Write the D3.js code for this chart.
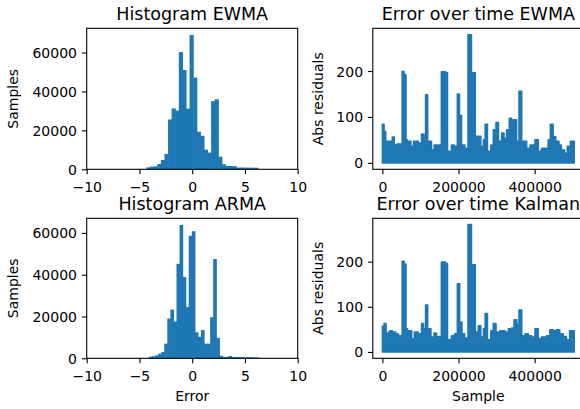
<!DOCTYPE html>
<html><head><meta charset="utf-8">
<script src="https://cdn.jsdelivr.net/npm/d3@7"></script>
<style>
body{margin:0;background:#fff;}
svg{display:block;font-family:"DejaVu Sans",sans-serif;}
</style>
</head><body>
<svg id="chart" width="580" height="409"></svg>
<script>
// ---------- data ----------
const ewmaEdges = [-4.33,-3.99,-3.65,-3.31,-2.97,-2.63,-2.29,-1.95,-1.61,-1.27,-0.93,-0.59,-0.25,0.09,0.43,0.77,1.11,1.45,1.79,2.13,2.47,2.81,3.15,3.49,3.83,4.17,4.51,4.85,5.19,5.53,5.87,6.21];
const ewmaCounts = [1000,1400,1500,2700,4800,7900,25600,31300,30200,60200,51000,31200,69000,47100,19300,17200,10100,8600,35000,36000,6500,2600,1700,1700,1600,900,900,850,850,800,800];
const armaEdges = [-4.10,-3.81,-3.52,-3.23,-2.94,-2.65,-2.36,-2.07,-1.78,-1.49,-1.20,-0.91,-0.62,-0.33,-0.04,0.25,0.54,0.83,1.12,1.41,1.70,1.99,2.28,2.57,2.86,3.15,3.44,3.73,4.02,4.31,4.60,4.89,5.18,5.47,5.76,6.05,6.34];
const armaCounts = [800,1000,1400,2200,3000,7000,19000,23300,17600,45200,63800,38900,24600,58600,60800,12500,10300,13500,7000,7000,19700,47500,9800,1200,700,700,1100,600,600,600,500,500,500,500,400,400];

const ewmaSample = [0,4400,8700,26000,31000,37500,52000,57000,62000,66000,75000,82000,94000,103000,109000,113500,119000,129000,136000,155000,166000,171000,181500,188500,197000,202500,208000,216500,225000,234000,244000,258500,265500,270000,276000,285000,291500,298500,305000,313500,319500,326500,333500,339500,344000,352500,359000,366000,379000,388000,401000,409500,418000,435500,441500,448500,455500,464000,470000,479000,486000,494000,504000];
const ewmaAbs = [84,68,47,56,39,41,199,192,50,47,36,47,43,63,57,148,47,28,39,198,196,25,39,36,150,103,39,32,279,196,58,36,50,84,25,39,72,88,47,65,54,72,97,90,94,47,156,47,32,39,50,25,32,50,84,57,47,39,28,21,36,47,47];

const kalmanSample = [0,4400,9600,15700,20000,26000,35000,42000,52000,57000,62000,66000,77000,84000,94000,103000,108000,113500,119000,127500,136000,142000,155000,166000,171000,181500,190000,197000,203000,209000,216000,225000,234000,244000,252000,258500,265500,270000,276000,285000,291500,298500,309000,322000,331000,339500,346000,353000,359000,366000,375000,383500,392000,401000,409500,418000,431000,440000,448500,457000,466000,475000,483500,492000,504000];
const kalmanAbs = [57,63,40,44,47,44,40,36,201,195,51,47,29,44,40,63,51,104,51,33,42,34,199,196,27,36,40,151,66,40,31,282,193,44,58,33,51,85,27,47,63,44,47,44,51,53,71,62,93,36,40,36,33,51,29,33,36,49,47,49,40,34,27,47,47];

const histXTicks = [-10,-5,0,5,10];
const histYTicks = [0,20000,40000,60000];
const timeXTicks = [0,200000,400000];
const resYTicks = [0,100,200];

const titles = ["Histogram EWMA","Error over time EWMA","Histogram ARMA","Error over time Kalman"];

// ---------- drawing ----------
const svg = d3.select("#chart");
const BLUE = "#1f77b4";
const FS = 14, TFS = 17.5;
const TICK = 4.86, PAD = 4.86;

function frame(p){
  svg.append("rect").attr("x",p.l).attr("y",p.t).attr("width",p.w).attr("height",p.h)
    .attr("fill","none").attr("stroke","#000").attr("stroke-width",1.1);
}
function axes(p, x, y, xticks, yticks, xfmt, yfmt){
  const gx = svg.append("g").attr("transform",`translate(0,${p.t+p.h})`)
    .call(d3.axisBottom(x).tickValues(xticks).tickFormat(xfmt).tickSize(TICK).tickPadding(PAD).tickSizeOuter(0));
  gx.select(".domain").remove();
  gx.selectAll("line").attr("stroke","#000").attr("stroke-width",1.1);
  gx.selectAll("text").attr("font-size",FS).attr("font-family","DejaVu Sans").attr("fill","#000").attr("dy","0.95em");
  const gy = svg.append("g").attr("transform",`translate(${p.l},0)`)
    .call(d3.axisLeft(y).tickValues(yticks).tickFormat(yfmt).tickSize(TICK).tickPadding(PAD).tickSizeOuter(0));
  gy.select(".domain").remove();
  gy.selectAll("line").attr("stroke","#000").attr("stroke-width",1.1);
  gy.selectAll("text").attr("font-size",FS).attr("font-family","DejaVu Sans").attr("fill","#000").attr("dy","0.36em");
}
function title(p, txt){
  svg.append("text").attr("x",p.l+p.w/2).attr("y",p.t-8.3).attr("text-anchor","middle")
    .attr("font-size",TFS).attr("fill","#000").text(txt);
}
function ylabel(p, txt, xpos){
  svg.append("text").attr("transform",`translate(${xpos},${p.t+p.h/2}) rotate(-90)`)
    .attr("text-anchor","middle").attr("font-size",FS).attr("fill","#000").text(txt);
}
function xlabel(p, txt){
  svg.append("text").attr("x",p.l+p.w/2).attr("y",p.t+p.h+43).attr("text-anchor","middle")
    .attr("font-size",FS).attr("fill","#000").text(txt);
}

function histPanel(p, edges, counts, ttl, showX){
  const x = d3.scaleLinear().domain([-10,10]).range([p.l,p.l+p.w]);
  const y = d3.scaleLinear().domain([0, d3.max(counts)*1.05]).range([p.t+p.h,p.t]);
  const bins = counts.map((c,i)=>({x0:edges[i],x1:edges[i+1],c}));
  svg.append("g").selectAll("rect").data(bins).join("rect")
    .attr("x",d=>x(d.x0)).attr("width",d=>x(d.x1)-x(d.x0)+0.6)
    .attr("y",d=>y(d.c)).attr("height",d=>y(0)-y(d.c))
    .attr("fill",BLUE);
  frame(p);
  axes(p,x,y,histXTicks,histYTicks,d3.format("d"),d3.format("d"));
  title(p,ttl);
  ylabel(p,"Samples",p.l-68.5);
  if(showX) xlabel(p,"Error");
}

let clipId = 0;
function timePanel(p, samples, vals, ttl, showX){
  const n = samples[samples.length-1];
  const x = d3.scaleLinear().domain([-0.05*n, 1.05*n]).range([p.l,p.l+p.w]);
  const vmax = d3.max(vals);
  const y = d3.scaleLinear().domain([-0.05*vmax, 1.05*vmax]).range([p.t+p.h,p.t]);
  const id = "clip"+(clipId++);
  svg.append("clipPath").attr("id",id).append("rect")
    .attr("x",p.l).attr("y",p.t).attr("width",p.w).attr("height",p.h);
  const pts = samples.map((s,i)=>({s,v:vals[i]}));
  const area = d3.area().x(d=>x(d.s)).y0(y(0)).y1(d=>y(d.v)).curve(d3.curveStepAfter);
  svg.append("path").datum(pts).attr("d",area).attr("clip-path",`url(#${id})`)
    .attr("fill",BLUE).attr("stroke",BLUE).attr("stroke-width",1.6).attr("stroke-linejoin","round");
  frame(p);
  axes(p,x,y,timeXTicks,resYTicks,d3.format("d"),d3.format("d"));
  title(p,ttl);
  ylabel(p,"Abs residuals",p.l-50);
  if(showX) xlabel(p,"Sample");
}

const P = [
  {l:86.7,t:28.3,w:211,h:141},
  {l:372.8,t:28.3,w:211,h:141},
  {l:86.7,t:218.3,w:211,h:140},
  {l:372.8,t:218.3,w:211,h:140}
];
histPanel(P[0], ewmaEdges, ewmaCounts, titles[0], false);
timePanel(P[1], ewmaSample, ewmaAbs, titles[1], false);
histPanel(P[2], armaEdges, armaCounts, titles[2], true);
timePanel(P[3], kalmanSample, kalmanAbs, titles[3], true);
</script>
</body></html>
